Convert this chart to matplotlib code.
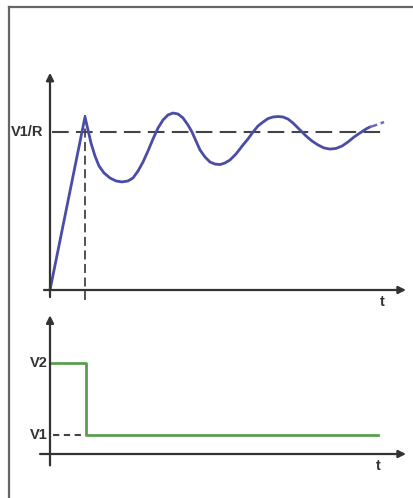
import matplotlib
matplotlib.use("Agg")
import matplotlib.pyplot as plt
from matplotlib.lines import Line2D

# ---- data ----
# top: current response (normalised so V1/R = 1), time in arbitrary units
t_curr = [0, 3.5, 3.8, 4.1, 4.5, 4.9, 5.4, 6.0, 6.6, 7.2,
          7.8, 8.3, 8.8, 9.3, 9.8, 10.3, 10.8, 11.3, 11.8, 12.3,
          12.8, 13.3, 13.8, 14.2, 14.6, 15.0, 15.5, 16.0, 16.5, 17.0,
          17.5, 18.0, 18.6, 19.3, 19.8, 20.3, 20.8, 21.3, 21.8, 22.3,
          22.8, 23.3, 23.8, 24.3, 25.0, 25.6, 26.2, 26.8, 27.4, 28.0,
          28.6, 29.2, 29.8, 30.4, 31.0, 31.6, 32.0]
i_curr = [0, 1.095, 1.013, 0.930, 0.848, 0.785, 0.741, 0.709, 0.690, 0.684,
          0.690, 0.709, 0.753, 0.810, 0.880, 0.956, 1.025, 1.076, 1.108, 1.120,
          1.114, 1.089, 1.044, 1.000, 0.943, 0.886, 0.842, 0.810, 0.797, 0.794,
          0.804, 0.823, 0.861, 0.918, 0.956, 1.000, 1.038, 1.063, 1.085, 1.095,
          1.098, 1.095, 1.082, 1.057, 1.013, 0.975, 0.943, 0.918, 0.899, 0.892,
          0.896, 0.911, 0.937, 0.968, 0.994, 1.019, 1.032]
t_tail = [32.0, 32.8, 33.4]
i_tail = [1.032, 1.048, 1.063]
i_ref = 1.0          # V1/R
t_switch = 3.5

# bottom: applied voltage step
V2 = 4.8
V1 = 1.0
t_step = [0, 3.6, 32.8]
v_step = [V2, V1, V1]

ref_label = "V1/R"
v_labels = ["V2", "V1"]
axis_label = "t"

# ---- figure ----
W, H = 414, 498
fig = plt.figure(figsize=(W / 100, H / 100), dpi=100)
fig.patch.set_facecolor("white")

AX_COL = "#333333"
TXT_COL = "#333333"
FONT = dict(family="Liberation Sans", fontweight="bold", fontsize=10.5, color=TXT_COL)

def px_axes(x0, y0, x1, y1):
    # rectangle in pixel coordinates (y from top)
    return fig.add_axes([x0 / W, 1 - y1 / H, (x1 - x0) / W, (y1 - y0) / H])

def arrow(ax, start, end):
    ax.annotate("", xy=end, xytext=start,
                arrowprops=dict(arrowstyle="-|>", color=AX_COL, lw=1.6,
                                mutation_scale=11, shrinkA=0, shrinkB=0),
                annotation_clip=False)

# top panel: x = 50 + 10 t px, y = 290 - 158 v px
ax1 = px_axes(30, 60, 410, 310)
ax1.set_xlim(-2, 36)
ax1.set_ylim((290 - 310) / 158, (290 - 60) / 158)
ax1.axis("off")

arrow(ax1, (0, -0.045), (0, 1.375))
arrow(ax1, (-0.6, 0), (35.6, 0))
ax1.plot([0.2, 33.6], [i_ref, i_ref], color="#444444", lw=1.5,
         dashes=(8, 3.5))
ax1.plot([t_switch, t_switch], [1.105, -0.065], color="#444444", lw=1.3,
         dashes=(5, 2.5))
ax1.plot(t_curr, i_curr, color="#4b4ba8", lw=2.0, solid_joinstyle="round",
         solid_capstyle="round")
ax1.plot(t_tail, i_tail, color="#6a6ab8", lw=1.8, dashes=(3, 1.5))
ax1.text(-0.7, i_ref, ref_label, ha="right", va="center", **FONT)
ax1.text(33.2, -0.075, axis_label, ha="center", va="center", **FONT)

# bottom panel: x = 50 + 10 t px, y = 454 - 19 u px
ax2 = px_axes(30, 300, 410, 480)
ax2.set_xlim(-2, 36)
ax2.set_ylim((454 - 480) / 19, (454 - 300) / 19)
ax2.axis("off")

arrow(ax2, (0, -0.6), (0, 7.3))
arrow(ax2, (-1.0, 0), (35.6, 0))
ax2.plot([0.3, 3.1], [V1, V1], color="#444444", lw=1.5, dashes=(3, 2.2))
ax2.plot(t_step, v_step, color="#5a9e4e", lw=2.0, drawstyle="steps-post")
ax2.text(-0.2, V2, v_labels[0], ha="right", va="center", **FONT)
ax2.text(-0.2, V1, v_labels[1], ha="right", va="center", **FONT)
ax2.text(32.8, -0.65, axis_label, ha="center", va="center", **FONT)

# frame lines (top and left)
fig.add_artist(Line2D([9 / W, 1.0], [1 - 7 / H, 1 - 7 / H],
                      transform=fig.transFigure, color="#666666", lw=1.6))
fig.add_artist(Line2D([9 / W, 9 / W], [1 - 7 / H, 0],
                      transform=fig.transFigure, color="#666666", lw=1.6))

fig.savefig("out.png", dpi=100, facecolor="white")
